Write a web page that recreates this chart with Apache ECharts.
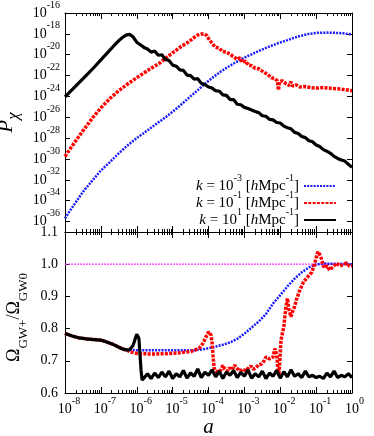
<!DOCTYPE html>
<html>
<head>
<meta charset="utf-8">
<script src="https://cdn.jsdelivr.net/npm/echarts@6/dist/echarts.min.js"></script>
<style>
  html, body { margin: 0; padding: 0; background: #fff; }
  #chart { width: 374px; height: 436px; }
</style>
</head>
<body>
<div id="chart"></div>
<script>
// tick exponents / tick values
var xExps = [-8, -7, -6, -5, -4, -3, -2, -1, 0];
var yTopExps = [-36, -34, -32, -30, -28, -26, -24, -22, -20, -18, -16];
var yBottomTicks = [0.6, 0.7, 0.8, 0.9, 1.0, 1.1];
var kNames = ['k3', 'k1', 'k10'];
var kExps = ['-3', '-1', '1'];

// top panel, pairs of [log10 a, log10 P]
var blueTop = [[-8,-35.7],[-7.85,-34.9],[-7.69,-34.1],[-7.5,-33.15],[-7.22,-32.0],[-7.0,-31.1],[-6.75,-30.3],
  [-6.5,-29.45],[-6.29,-28.8],[-6.0,-28.0],[-5.82,-27.55],[-5.6,-27.0],[-5.36,-26.4],[-5.2,-26.0],[-5.03,-25.55],
  [-4.8,-24.9],[-4.57,-24.2],[-4.3,-23.4],[-4.1,-22.8],[-3.85,-22.1],[-3.63,-21.55],[-3.4,-21.05],[-3.17,-20.6],
  [-2.95,-20.2],[-2.7,-19.8],[-2.4,-19.35],[-2.1,-18.95],[-1.8,-18.6],[-1.5,-18.25],[-1.2,-18.0],[-0.97,-17.9],
  [-0.7,-17.88],[-0.5,-17.9],[-0.25,-17.95],[0,-18.05]];
var redTop = [[-8,-29.75],[-7.85,-29.0],[-7.69,-28.2],[-7.5,-27.3],[-7.22,-26.0],[-7.0,-25.1],[-6.75,-24.2],
  [-6.5,-23.45],[-6.29,-22.9],[-6.0,-22.2],[-5.82,-21.8],[-5.6,-21.3],[-5.36,-20.8],[-5.2,-20.35],[-5.03,-19.9],
  [-4.8,-19.3],[-4.57,-18.8],[-4.4,-18.35],[-4.29,-18.1],[-4.2,-18.02],[-4.12,-18.0],[-4.05,-18.15],[-4.0,-18.45],
  [-3.9,-18.9],[-3.82,-19.25],[-3.7,-19.4],[-3.6,-19.7],[-3.5,-19.75],[-3.4,-19.95],[-3.3,-20.2],[-3.2,-20.45],
  [-3.12,-20.3],[-3.05,-20.75],[-2.97,-20.6],[-2.89,-21.0],[-2.8,-21.05],[-2.7,-21.3],[-2.6,-21.35],[-2.47,-21.65],
  [-2.35,-21.9],[-2.25,-22.2],[-2.15,-22.3],[-2.08,-22.5],[-2.05,-23.4],[-2.02,-22.6],[-1.95,-22.5],[-1.85,-22.75],
  [-1.75,-22.95],[-1.7,-22.6],[-1.65,-23.0],[-1.55,-22.9],[-1.45,-23.1],[-1.3,-23.05],[-1.16,-23.15],[-1.0,-23.2],
  [-0.8,-23.15],[-0.5,-23.25],[-0.3,-23.3],[0,-23.45]];
var blackTop = [[-8,-24.05],[-7.8,-23.35],[-7.6,-22.65],[-7.4,-21.95],[-7.2,-21.25],[-7.0,-20.5],[-6.8,-19.75],
  [-6.6,-19.0],[-6.5,-18.65],[-6.4,-18.35],[-6.3,-18.12],[-6.25,-18.04],[-6.2,-18.05],[-6.15,-18.12],[-6.1,-18.3],
  [-6.05,-18.55],[-6.0,-18.8],[-5.9,-19.05],[-5.8,-19.3],[-5.7,-19.45],[-5.6,-19.75],[-5.5,-19.65],[-5.4,-20.05],
  [-5.3,-20.0],[-5.2,-20.45],[-5.1,-20.55],[-5.0,-21.0],[-4.9,-21.1],[-4.8,-21.45],[-4.7,-21.5],[-4.6,-21.95],
  [-4.5,-22.0],[-4.4,-22.35],[-4.3,-22.3],[-4.2,-22.75],[-4.1,-22.85],[-4.0,-23.1],[-3.9,-23.2],[-3.8,-23.45],
  [-3.7,-23.5],[-3.6,-23.85],[-3.5,-23.9],[-3.4,-24.3],[-3.3,-24.3],[-3.2,-24.75],[-3.1,-24.8],[-3.0,-25.05],
  [-2.9,-25.15],[-2.8,-25.3],[-2.7,-25.45],[-2.6,-25.55],[-2.5,-25.85],[-2.4,-25.9],[-2.3,-26.2],[-2.2,-26.25],
  [-2.1,-26.5],[-2.0,-26.55],[-1.9,-26.85],[-1.8,-27.0],[-1.7,-27.1],[-1.6,-27.45],[-1.5,-27.55],[-1.4,-27.85],
  [-1.3,-27.95],[-1.2,-28.25],[-1.1,-28.35],[-1.0,-28.65],[-0.9,-28.8],[-0.8,-29.1],[-0.7,-29.25],[-0.6,-29.45],
  [-0.5,-29.75],[-0.4,-29.95],[-0.3,-30.1],[-0.2,-30.2],[-0.1,-30.5],[0,-30.8]];

// bottom panel, pairs of [log10 a, ratio]
var unityLine = [[-8,1.0],[0,1.0]];
var blueBottom = [[-8,0.785],[-7.8,0.777],[-7.6,0.771],[-7.4,0.768],[-7.2,0.766],[-7.0,0.764],[-6.8,0.757],
  [-6.6,0.748],[-6.4,0.737],[-6.3,0.734],[-6.0,0.733],[-5.0,0.733],[-4.4,0.733],[-4.2,0.735],[-4.0,0.739],
  [-3.8,0.744],[-3.6,0.750],[-3.4,0.757],[-3.2,0.768],[-3.0,0.784],[-2.8,0.803],[-2.6,0.822],[-2.4,0.845],
  [-2.2,0.878],[-2.0,0.904],[-1.8,0.931],[-1.6,0.955],[-1.4,0.975],[-1.2,0.99],[-1.0,0.999],[-0.8,1.002],[0,1.0]];
var redBottom = [[-8,0.785],[-7.8,0.777],[-7.6,0.771],[-7.4,0.768],[-7.2,0.766],[-7.0,0.764],[-6.8,0.757],
  [-6.6,0.748],[-6.4,0.737],[-6.3,0.734],[-6.15,0.727],[-6.0,0.723],[-5.6,0.721],[-5.2,0.722],[-4.8,0.725],
  [-4.5,0.729],[-4.38,0.733],[-4.25,0.740],[-4.15,0.755],[-4.07,0.774],[-4.0,0.790],[-3.97,0.793],[-3.93,0.78],
  [-3.9,0.755],[-3.87,0.71],[-3.84,0.675],[-3.8,0.668],[-3.72,0.665],[-3.65,0.672],[-3.6,0.686],[-3.55,0.675],
  [-3.48,0.668],[-3.42,0.678],[-3.35,0.672],[-3.27,0.686],[-3.2,0.676],[-3.12,0.668],[-3.05,0.674],[-2.97,0.669],
  [-2.9,0.676],[-2.82,0.684],[-2.75,0.674],[-2.68,0.679],[-2.6,0.688],[-2.52,0.69],[-2.45,0.70],[-2.4,0.712],
  [-2.35,0.718],[-2.3,0.706],[-2.25,0.702],[-2.2,0.712],[-2.15,0.738],[-2.1,0.72],[-2.07,0.68],[-2.04,0.655],
  [-2.01,0.70],[-1.98,0.764],[-1.93,0.79],[-1.9,0.806],[-1.85,0.86],[-1.8,0.894],[-1.76,0.86],[-1.7,0.837],
  [-1.65,0.855],[-1.6,0.868],[-1.55,0.89],[-1.5,0.905],[-1.45,0.92],[-1.4,0.915],[-1.35,0.945],[-1.3,0.94],
  [-1.2,0.965],[-1.12,0.975],[-1.05,0.998],[-1.0,1.02],[-0.95,1.039],[-0.9,1.03],[-0.86,1.019],[-0.8,0.995],
  [-0.76,0.988],[-0.7,0.995],[-0.62,0.982],[-0.55,0.99],[-0.43,1.003],[-0.35,0.995],[-0.25,0.998],[-0.15,1.004],
  [-0.08,0.995],[0,0.995]];
var blackBottom = [[-8,0.785],[-7.8,0.777],[-7.6,0.771],[-7.4,0.768],[-7.2,0.766],[-7.0,0.764],[-6.9,0.761],
  [-6.8,0.757],[-6.7,0.753],[-6.6,0.748],[-6.5,0.742],[-6.4,0.737],[-6.3,0.734],[-6.2,0.734],[-6.15,0.738],
  [-6.1,0.748],[-6.05,0.766],[-6.0,0.782],[-5.97,0.787],[-5.94,0.77],[-5.91,0.72],[-5.88,0.67],[-5.85,0.64],
  [-5.82,0.635],[-5.7,0.660],[-5.6,0.645],[-5.5,0.662],[-5.4,0.648],[-5.3,0.665],[-5.2,0.650],[-5.1,0.668],
  [-5.0,0.645],[-4.9,0.660],[-4.8,0.650],[-4.7,0.670],[-4.6,0.646],[-4.5,0.662],[-4.4,0.652],[-4.3,0.675],
  [-4.2,0.648],[-4.1,0.665],[-4.0,0.655],[-3.9,0.672],[-3.8,0.650],[-3.7,0.668],[-3.6,0.645],[-3.5,0.665],
  [-3.4,0.655],[-3.3,0.670],[-3.2,0.648],[-3.1,0.664],[-3.0,0.652],[-2.9,0.672],[-2.8,0.646],[-2.7,0.660],
  [-2.6,0.650],[-2.5,0.668],[-2.4,0.645],[-2.3,0.662],[-2.2,0.652],[-2.1,0.670],[-2.0,0.646],[-1.9,0.666],
  [-1.8,0.650],[-1.7,0.672],[-1.6,0.652],[-1.5,0.660],[-1.4,0.648],[-1.3,0.668],[-1.2,0.650],[-1.1,0.655],
  [-1.0,0.648],[-0.9,0.652],[-0.8,0.645],[-0.7,0.662],[-0.6,0.650],[-0.5,0.668],[-0.4,0.648],[-0.3,0.655],
  [-0.2,0.650],[-0.1,0.660],[0,0.648]];

var FONT = 'Liberation Serif';
var chart = echarts.init(document.getElementById('chart'));

var xMajor = xExps.map(function (e) { return Math.pow(10, e); });
var xMinor = [];
xExps.slice(0, -1).forEach(function (e) {
  for (var m = 2; m <= 9; m++) xMinor.push(m * Math.pow(10, e));
});
var yTopVals = yTopExps.map(function (e) { return Math.pow(10, e); });

function logPts(pts) {
  return pts.map(function (p) { return [Math.pow(10, p[0]), Math.pow(10, p[1])]; });
}
function linPts(pts) {
  return pts.map(function (p) { return [Math.pow(10, p[0]), p[1]]; });
}

var powRich = {
  b: { fontFamily: FONT, fontSize: 14, lineHeight: 26, color: '#000' },
  b1: { fontFamily: FONT, fontSize: 14, lineHeight: 26, color: '#000', padding: [0, 0, 0, 5] },
  b2: { fontFamily: FONT, fontSize: 14, lineHeight: 26, color: '#000', padding: [0, 0, 0, 8] },
  s: { fontFamily: FONT, fontSize: 10, lineHeight: 16, verticalAlign: 'top', color: '#000' }
};
function powLabel(v) {
  var e = String(Math.round(Math.log10(v)));
  return '{b|10}{s|' + e + '}';
}

function xAx(grid, pos, ticks, len, line, labels) {
  return {
    type: 'log', gridIndex: grid, position: pos, min: 1e-8, max: 1,
    axisLine: { show: line, onZero: false, lineStyle: { color: '#000', width: 1 } },
    axisTick: { show: true, inside: true, length: len, customValues: ticks, lineStyle: { color: '#000' } },
    axisLabel: labels ? {
      show: true, margin: 3, customValues: xMajor, rich: powRich,
      formatter: function (v) {
        var e = String(Math.round(Math.log10(v)));
        return '{' + (e.length > 1 ? 'b2' : 'b1') + '|10}{s|' + e + '}';
      }
    } : { show: false },
    splitLine: { show: false }
  };
}

function yTop(pos, labels) {
  return {
    type: 'log', gridIndex: 0, position: pos, min: 1e-37, max: 1e-16,
    axisLine: { show: true, lineStyle: { color: '#000', width: 1 } },
    axisTick: { show: true, inside: true, length: 5, customValues: yTopVals, lineStyle: { color: '#000' } },
    axisLabel: labels ? { show: true, margin: 5, customValues: yTopVals, rich: powRich, formatter: powLabel } : { show: false },
    splitLine: { show: false },
    name: labels ? '{p|P}{c|χ}' : '',
    nameLocation: 'middle', nameRotate: 90, nameGap: 36,
    nameTextStyle: {
      rich: {
        p: { fontFamily: FONT, fontSize: 21, fontStyle: 'italic', lineHeight: 26, verticalAlign: 'top', color: '#000' },
        c: { fontFamily: FONT, fontSize: 17, fontStyle: 'italic', lineHeight: 14, verticalAlign: 'bottom', color: '#000' }
      }
    }
  };
}

function yBottom(pos, labels) {
  return {
    type: 'value', gridIndex: 1, position: pos, min: 0.6, max: 1.1,
    axisLine: { show: true, lineStyle: { color: '#000', width: 1 } },
    axisTick: { show: true, inside: true, length: 5, customValues: yBottomTicks, lineStyle: { color: '#000' } },
    axisLabel: labels ? {
      show: true, margin: 7, customValues: yBottomTicks, color: '#000', fontFamily: FONT, fontSize: 14,
      formatter: function (v) { return v.toFixed(1); }
    } : { show: false },
    splitLine: { show: false },
    name: labels ? '{o|Ω}{s|GW+}{o|/Ω}{s|GW0}' : '',
    nameLocation: 'middle', nameRotate: 90, nameGap: 26,
    nameTextStyle: {
      padding: [0, 10, 0, 0],
      rich: {
        o: { fontFamily: FONT, fontSize: 18, lineHeight: 24, verticalAlign: 'top', color: '#000' },
        s: { fontFamily: FONT, fontSize: 13, lineHeight: 12, verticalAlign: 'bottom', color: '#000' }
      }
    }
  };
}

var xAxes = [
  xAx(0, 'bottom', xMajor, 6, true, false),
  xAx(0, 'bottom', xMinor, 3, false, false),
  xAx(0, 'top', xMajor, 6, true, false),
  xAx(0, 'top', xMinor, 3, false, false),
  xAx(1, 'bottom', xMajor, 6, true, true),
  xAx(1, 'bottom', xMinor, 3, false, false),
  xAx(1, 'top', xMajor, 6, true, false),
  xAx(1, 'top', xMinor, 3, false, false)
];
xAxes[4].name = 'a';
xAxes[4].nameLocation = 'middle';
xAxes[4].nameGap = 21;
xAxes[4].nameTextStyle = { fontFamily: FONT, fontSize: 21, fontStyle: 'italic', color: '#000' };

var blueStyle = { color: '#1a1aff', width: 2.5, type: [2, 1.2] };
var redStyle = { color: '#ff0000', width: 3.5, type: [3, 1.3] };
var blackStyle = { color: '#000000', width: 3.2 };

function line(name, data, xi, yi, style) {
  return {
    type: 'line', name: name, data: data, xAxisIndex: xi, yAxisIndex: yi,
    showSymbol: false, symbol: 'none', lineStyle: style, itemStyle: { color: style.color },
    emphasis: { disabled: true }, silent: true
  };
}

var legendRich = {
  r: { fontFamily: FONT, fontSize: 15, lineHeight: 26, color: '#000' },
  i: { fontFamily: FONT, fontSize: 15, lineHeight: 26, fontStyle: 'italic', color: '#000' },
  s: { fontFamily: FONT, fontSize: 10, lineHeight: 16, verticalAlign: 'top', color: '#000' }
};
var legendTops = [173, 190, 207];
var legends = kNames.map(function (n, i) {
  return {
    data: [n], right: 37, top: legendTops[i], orient: 'vertical', align: 'right', padding: 0,
    itemWidth: 32, itemHeight: 10, itemGap: 8, selectedMode: false,
    itemStyle: { opacity: 0 },
    formatter: function () {
      return '{i|k}{r| = 10}{s|' + kExps[i] + '}{r| [}{i|h}{r|Mpc}{s|-1}{r|]}';
    },
    textStyle: { rich: legendRich }
  };
});

chart.setOption({
  animation: false,
  backgroundColor: '#fff',
  grid: [
    { left: 65, right: 22, top: 13, height: 219, outerBoundsMode: 'none' },
    { left: 65, right: 22, top: 232, height: 161, outerBoundsMode: 'none' }
  ],
  legend: legends,
  xAxis: xAxes,
  yAxis: [yTop('left', true), yTop('right', false), yBottom('left', true), yBottom('right', false)],
  series: [
    line('k3', logPts(blueTop), 0, 0, blueStyle),
    line('k1', logPts(redTop), 0, 0, redStyle),
    line('k10', logPts(blackTop), 0, 0, blackStyle),
    line('unity', linPts(unityLine), 4, 2, { color: '#ff33ff', width: 1.2, type: [2, 1] }),
    line('k3', linPts(blueBottom), 4, 2, blueStyle),
    line('k1', linPts(redBottom), 4, 2, redStyle),
    line('k10', linPts(blackBottom), 4, 2, blackStyle)
  ]
});
</script>
</body>
</html>
